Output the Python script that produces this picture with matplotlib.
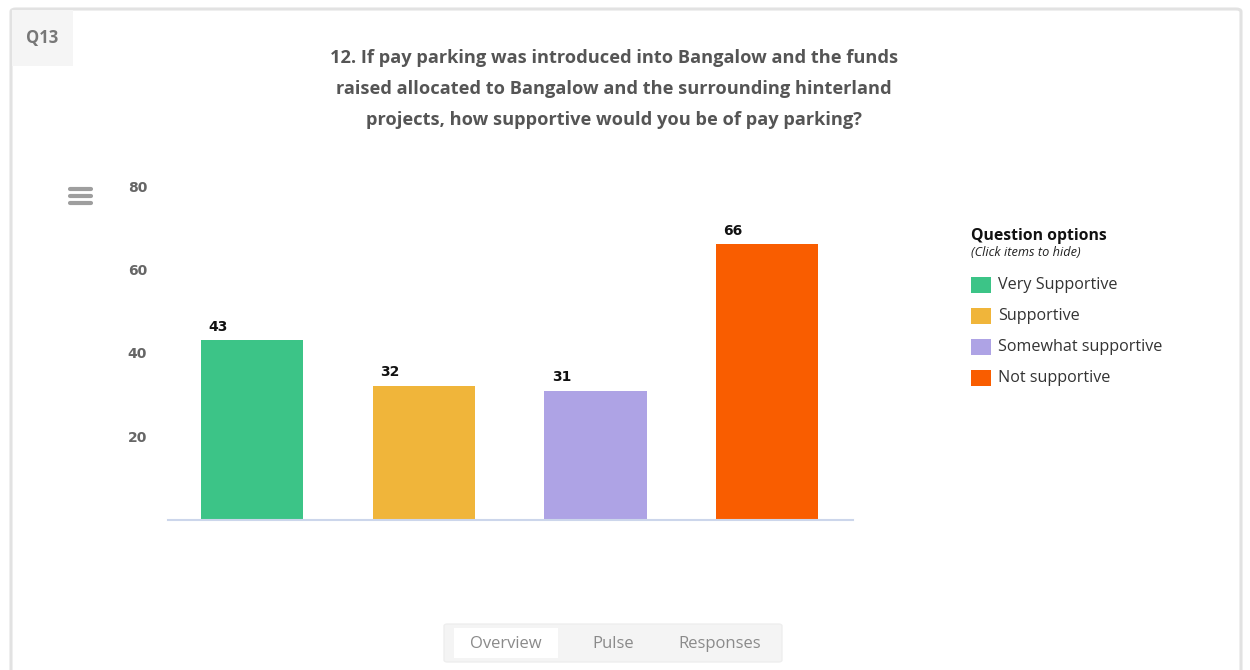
import matplotlib
matplotlib.use("Agg")
import matplotlib.pyplot as plt
from matplotlib.patches import FancyBboxPatch, Rectangle

categories = ["Very Supportive", "Supportive", "Somewhat supportive", "Not supportive"]
values = [43, 32, 31, 66]
colors = ["#3CC487", "#F0B53A", "#AEA3E5", "#F95D00"]
yticks = [20, 40, 60, 80]
title_lines = [
    "12. If pay parking was introduced into Bangalow and the funds",
    "raised allocated to Bangalow and the surrounding hinterland",
    "projects, how supportive would you be of pay parking?",
]
tabs = ["Overview", "Pulse", "Responses"]

W, H = 1250, 670
plt.rcParams['font.family'] = ['Open Sans', 'DejaVu Sans']
fig = plt.figure(figsize=(W / 100, H / 100), dpi=100)
fig.patch.set_facecolor("white")

def fx(x):
    return x / W

def fy(y):
    return 1 - y / H

# card border
card = FancyBboxPatch((fx(11), fy(700)), fx(1241) - fx(11), fy(9) - fy(700),
                      boxstyle="round,pad=0,rounding_size=0.004",
                      transform=fig.transFigure, facecolor="none",
                      edgecolor="#E2E2E2", linewidth=2.2, zorder=0)
fig.patches.append(card)
# Q13 box
fig.patches.append(Rectangle((fx(12), fy(66)), fx(73) - fx(12), fy(10) - fy(66),
                             transform=fig.transFigure, facecolor="#F5F5F5",
                             edgecolor="none", zorder=1))
fig.text(fx(42), fy(38), "Q13", ha="center", va="center", fontsize=12,
         fontweight="bold", color="#777777")

# title
for i, line in enumerate(title_lines):
    fig.text(fx(614), fy(58 + 31 * i), line, ha="center", va="center",
             fontsize=13.15, fontweight="bold", color="#555555")

# hamburger icon
for dy in (-7, 0, 7):
    fig.add_artist(plt.Line2D([fx(70), fx(91)], [fy(196 + dy), fy(196 + dy)],
                              transform=fig.transFigure, color="#9E9E9E",
                              linewidth=3, solid_capstyle="round"))

# axes
ax = fig.add_axes([fx(168), fy(520), fx(853) - fx(168), fy(186) - fy(520)])
ax.set_zorder(5)
x = list(range(len(categories)))
bars = ax.bar(x, values, width=0.595, color=colors, edgecolor="none", zorder=2)
ax.set_xlim(-0.49, 3.5)
ax.set_ylim(0, 80)
ax.set_yticks(yticks)
ax.set_yticklabels([str(t) for t in yticks], fontsize=10, fontweight="bold",
                   color="#666666", family=["DejaVu Sans"])
ax.tick_params(axis="y", length=0, pad=15)
ax.set_xticks([])
for s in ["top", "right", "left"]:
    ax.spines[s].set_visible(False)
ax.spines["bottom"].set_color("#CCD6EB")
ax.spines["bottom"].set_linewidth(1.5)
ax.patch.set_alpha(0)
for xi, v in zip(x, values):
    ax.annotate(str(v), (xi - 0.255, v), xytext=(0, 5), textcoords="offset points",
                ha="left", va="bottom", fontsize=10, fontweight="bold",
                color="#111111", family=["DejaVu Sans"])

# legend
fig.text(fx(971), fy(236), "Question options", ha="left", va="center",
         fontsize=11.3, fontweight="bold", color="#111111")
fig.text(fx(971), fy(253), "(Click items to hide)", ha="left", va="center",
         fontsize=9.2, fontstyle="italic", color="#222222")
for i, (c, lab) in enumerate(zip(colors, categories)):
    yc = 285 + 31 * i
    fig.patches.append(Rectangle((fx(971), fy(yc + 8)), fx(20), fy(0) - fy(16),
                                 transform=fig.transFigure, facecolor=c,
                                 edgecolor="none"))
    fig.text(fx(998), fy(yc), lab, ha="left", va="center", fontsize=11.6,
             color="#333333")

# bottom tabs
fig.patches.append(FancyBboxPatch((fx(444), fy(662)), fx(338), fy(0) - fy(38),
                                  boxstyle="round,pad=0,rounding_size=0.003",
                                  transform=fig.transFigure, facecolor="#F4F4F4",
                                  edgecolor="#EEEEEE", linewidth=1))
fig.patches.append(Rectangle((fx(454), fy(658)), fx(104), fy(0) - fy(30),
                             transform=fig.transFigure, facecolor="white",
                             edgecolor="none"))
for t, xc in zip(tabs, [506, 613, 720]):
    fig.text(fx(xc), fy(644), t, ha="center", va="center", fontsize=12,
             color="#8A8A8A")

fig.savefig("out.png", dpi=100)
